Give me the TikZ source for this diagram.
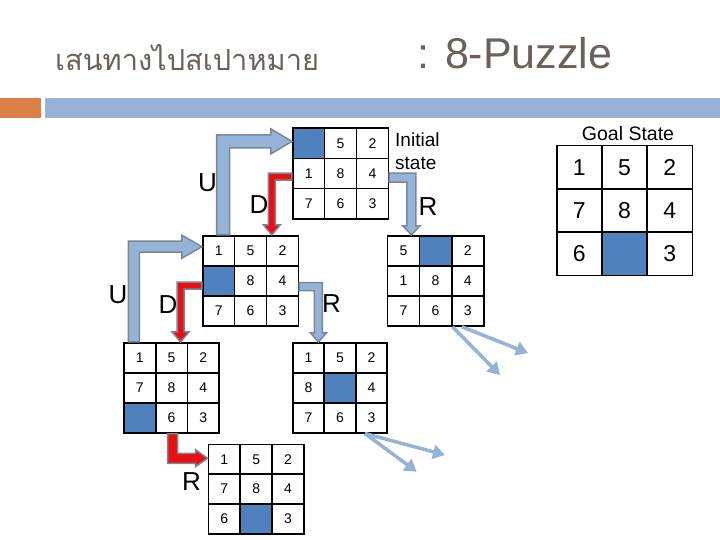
\documentclass[tikz,border=0pt]{standalone}
\usepackage{fontspec}
\setmainfont{Liberation Sans}
\newfontfamily\thaifont[Script=Thai]{Loma}
\usetikzlibrary{calc,arrows.meta}
\definecolor{titlegray}{HTML}{6B605A}
\definecolor{barorange}{HTML}{DD8047}
\definecolor{barblue}{HTML}{95B3D7}
\definecolor{tileblue}{HTML}{4F81BD}
\definecolor{arrowblue}{HTML}{95B3D7}
\definecolor{arrowedge}{HTML}{7A8799}
\definecolor{arrowred}{HTML}{E81010}
\newcommand\smallgridfont{\fontsize{14}{16}\selectfont}
\newcommand\goalgridfont{\fontsize{23}{26}\selectfont}
\tikzset{
 cell/.style={draw=black, line width=1.6pt, inner sep=0pt, anchor=center},
 bigletter/.style={font=\fontsize{26}{30}\selectfont, inner sep=0pt},
 bluebent/.style={fill=arrowblue, draw=arrowedge, line width=1.5pt, line join=miter},
 redbent/.style={fill=arrowred, draw=arrowedge, line width=1.5pt, line join=miter},
 thinarrow/.style={draw=arrowblue, line width=3.5pt, -{Triangle[width=14pt,length=12pt]}},
}
\newcommand\puzzle[7]{%
 \foreach \t/\f [count=\i from 0] in {#7}{%
  \pgfmathtruncatemacro\rr{int(\i/3)}%
  \pgfmathtruncatemacro\cc{mod(\i,3)}%
  \node[cell, fill=\f, minimum width=#4pt, minimum height=#5pt, font=#6] (#1-\i) at ({#2+(\cc+0.5)*#4},{#3+(\rr+0.5)*#5}) {\t};
 }}
% vertical up, then right
\newcommand\bentUR[6]{\draw[#1] let \p1=(#2), \p2=(#3) in
 ({\x1-#4pt},\y1) -- ({\x1-#4pt},{\y2+#4pt}) -- ({\x2-#6pt},{\y2+#4pt}) -- ({\x2-#6pt},{\y2+#5pt}) -- (\x2,\y2)
 -- ({\x2-#6pt},{\y2-#5pt}) -- ({\x2-#6pt},{\y2-#4pt}) -- ({\x1+#4pt},{\y2-#4pt}) -- ({\x1+#4pt},\y1) -- cycle;}
% vertical down, then right
\newcommand\bentDR[6]{\draw[#1] let \p1=(#2), \p2=(#3) in
 ({\x1-#4pt},\y1) -- ({\x1-#4pt},{\y2-#4pt}) -- ({\x2-#6pt},{\y2-#4pt}) -- ({\x2-#6pt},{\y2-#5pt}) -- (\x2,\y2)
 -- ({\x2-#6pt},{\y2+#5pt}) -- ({\x2-#6pt},{\y2+#4pt}) -- ({\x1+#4pt},{\y2+#4pt}) -- ({\x1+#4pt},\y1) -- cycle;}
% horizontal left, then down
\newcommand\bentLD[6]{\draw[#1] let \p1=(#2), \p2=(#3) in
 (\x1,{\y1+#4pt}) -- ({\x2-#4pt},{\y1+#4pt}) -- ({\x2-#4pt},{\y2+#6pt}) -- ({\x2-#5pt},{\y2+#6pt}) -- (\x2,\y2)
 -- ({\x2+#5pt},{\y2+#6pt}) -- ({\x2+#4pt},{\y2+#6pt}) -- ({\x2+#4pt},{\y1-#4pt}) -- (\x1,{\y1-#4pt}) -- cycle;}
% horizontal right, then down
\newcommand\bentRD[6]{\draw[#1] let \p1=(#2), \p2=(#3) in
 (\x1,{\y1+#4pt}) -- ({\x2+#4pt},{\y1+#4pt}) -- ({\x2+#4pt},{\y2+#6pt}) -- ({\x2+#5pt},{\y2+#6pt}) -- (\x2,\y2)
 -- ({\x2-#5pt},{\y2+#6pt}) -- ({\x2-#4pt},{\y2+#6pt}) -- ({\x2-#4pt},{\y1-#4pt}) -- (\x1,{\y1-#4pt}) -- cycle;}
\begin{document}
\begin{tikzpicture}[x=1pt,y=-1pt]
\useasboundingbox (0,0) rectangle (720,540);
\fill[white] (0,0) rectangle (720,540);
% title
\node[anchor=base west, inner sep=0pt, text=titlegray, font=\thaifont\fontsize{29}{34}\selectfont] (thaititle) at (55,71) {เสนทางไปสเปาหมาย};
\node[anchor=base west, inner sep=0pt, text=titlegray, font=\fontsize{43}{48}\selectfont] (title) at (417,69) {: 8-Puzzle};
\fill[barorange] (0,98) rectangle (41,118);
\fill[barblue] (45,98) rectangle (720,118);
% grids
\puzzle{gi}{292.7}{128.3}{31.9}{30.2}{\smallgridfont}{/tileblue,5/white,2/white,1/white,8/white,4/white,7/white,6/white,3/white}
\puzzle{g2}{202.7}{235.7}{31.9}{30}{\smallgridfont}{1/white,5/white,2/white,/tileblue,8/white,4/white,7/white,6/white,3/white}
\puzzle{g3}{387.3}{235.7}{32.2}{30.1}{\smallgridfont}{5/white,/tileblue,2/white,1/white,8/white,4/white,7/white,6/white,3/white}
\puzzle{g4}{124}{342.7}{31.7}{30}{\smallgridfont}{1/white,5/white,2/white,7/white,8/white,4/white,/tileblue,6/white,3/white}
\puzzle{g5}{292.7}{342.7}{31.5}{30}{\smallgridfont}{1/white,5/white,2/white,8/white,/tileblue,4/white,7/white,6/white,3/white}
\puzzle{g6}{208.3}{444.3}{31.9}{29.9}{\smallgridfont}{1/white,5/white,2/white,7/white,8/white,4/white,6/white,/tileblue,3/white}
\puzzle{gg}{556.7}{145.7}{45.2}{43.3}{\goalgridfont}{1/white,5/white,2/white,7/white,8/white,4/white,6/white,/tileblue,3/white}
% labels
\node[anchor=base west, inner sep=0pt, align=left, font=\fontsize{19}{23}\selectfont] (initlbl) at (395,170) {Initial\\state};
\node[anchor=base, inner sep=0pt, font=\fontsize{19.5}{22}\selectfont] (goallbl) at (628,140.7) {Goal State};
\node[bigletter] (lu1) at (207.5,183) {U};
\node[bigletter] (ld1) at (259,205) {D};
\node[bigletter] (lr1) at (428,206.5) {R};
\node[bigletter] (lu2) at (118,295) {U};
\node[bigletter] (ld2) at (168,305) {D};
\node[bigletter] (lr2) at (331.5,304) {R};
\node[bigletter] (lr3) at (191.5,481.5) {R};
% anchor points for bent arrows
\coordinate (uS) at ($(g2-0.north)+(4.5,0)$);
\coordinate (uT) at ($(gi-0.west)+(0,-2)$);
\coordinate (u2S) at ($(g4-0.north)+(-6,0)$);
\coordinate (u2T) at ($(g2-0.west)+(0,-4)$);
\coordinate (dS) at ($(gi-3.west)+(0,3)$);
\coordinate (dT) at ($(g2-1.north east)+(4.5,0)$);
\coordinate (d2S) at ($(g2-3.west)+(0,5)$);
\coordinate (d2T) at ($(g4-1.north)+(9,0)$);
\coordinate (rS) at ($(gi-5.east)+(0,4)$);
\coordinate (rT) at ($(g3-0.north)+(8,0)$);
\coordinate (r2S) at ($(g2-5.east)+(0,6)$);
\coordinate (r2T) at ($(g5-0.north)+(10,0)$);
\coordinate (r3S) at ($(g4-7.south)+(1,0)$);
\coordinate (r3T) at ($(g6-0.west)+(0,-1)$);
% bent block arrows
\bentUR{bluebent}{uS}{uT}{6.5}{12.5}{21}
\bentUR{bluebent}{u2S}{u2T}{5.5}{11.5}{20}
\bentLD{redbent}{dS}{dT}{3.5}{8.5}{10}
\bentLD{redbent}{d2S}{d2T}{3.5}{8.5}{10}
\bentRD{bluebent}{rS}{rT}{4.5}{8.5}{9}
\bentRD{bluebent}{r2S}{r2T}{4}{8}{9}
\bentDR{redbent}{r3S}{r3T}{5}{8.5}{12}
% thin arrows
\coordinate (t1S) at (g3-7.south east);
\coordinate (t2S) at ($(g3-8.south)+(-6,0)$);
\coordinate (t1E) at (500,375);
\coordinate (t2E) at (528,353);
\draw[thinarrow] (t1S) -- (t1E);
\draw[thinarrow] (t2S) -- (t2E);
\coordinate (t3S) at ($(g5-8.south)+(-6.5,0)$);
\coordinate (t3E) at (416.7,471.7);
\coordinate (t4E) at (445,455);
\draw[thinarrow] (t3S) -- (t3E);
\draw[thinarrow] (t3S) -- (t4E);
\end{tikzpicture}
\end{document}
